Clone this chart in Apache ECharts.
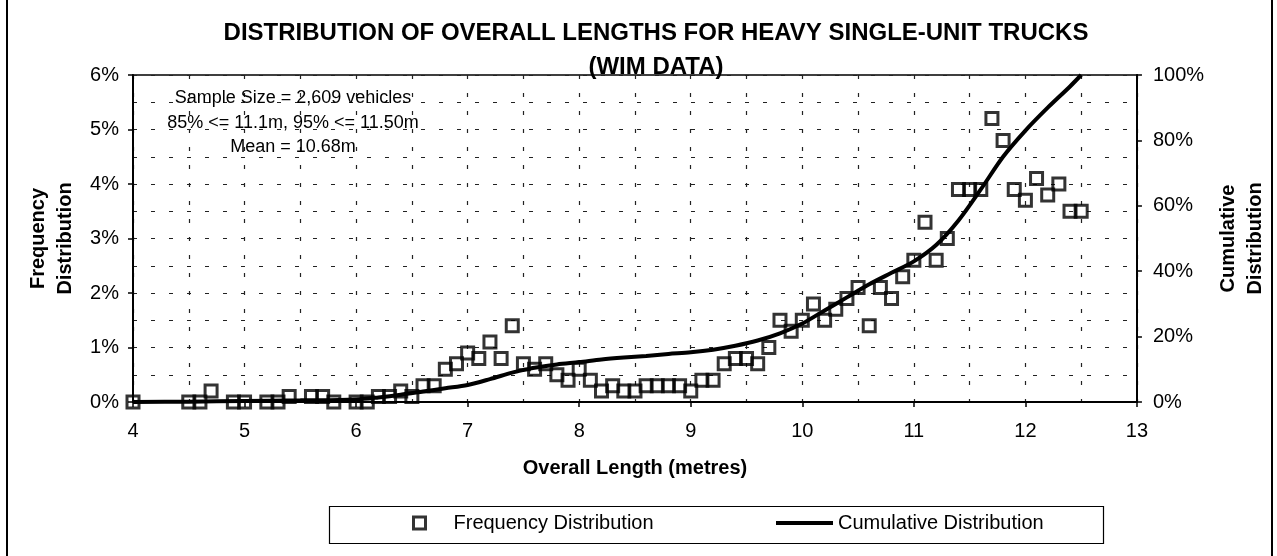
<!DOCTYPE html>
<html>
<head>
<meta charset="utf-8">
<title>Overall lengths - heavy single-unit trucks</title>
<script src="https://cdn.jsdelivr.net/npm/echarts@6/dist/echarts.min.js"></script>
<style>
  html, body { margin: 0; padding: 0; background: #fff; }
  #chart { width: 1277px; height: 556px; }
</style>
</head>
<body>
<div id="chart"></div>
<script>
// frequency distribution, % of vehicles per 0.1 m bin
var freqLength = [4.0, 4.5, 4.6, 4.7, 4.9, 5.0, 5.2, 5.3, 5.4, 5.6, 5.7, 5.8, 6.0, 6.1,
  6.2, 6.3, 6.4, 6.5, 6.6, 6.7, 6.8, 6.9, 7.0, 7.1, 7.2, 7.3, 7.4, 7.5, 7.6, 7.7, 7.8, 7.9,
  8.0, 8.1, 8.2, 8.3, 8.4, 8.5, 8.6, 8.7, 8.8, 8.9, 9.0, 9.1, 9.2, 9.3, 9.4, 9.5, 9.6, 9.7,
  9.8, 9.9, 10.0, 10.1, 10.2, 10.3, 10.4, 10.5, 10.6, 10.7, 10.8, 10.9, 11.0, 11.1, 11.2,
  11.3, 11.4, 11.5, 11.6, 11.7, 11.8, 11.9, 12.0, 12.1, 12.2, 12.3, 12.4, 12.5];
var freqPercent = [0, 0, 0, 0.2, 0, 0, 0, 0, 0.1, 0.1, 0.1, 0, 0, 0,
  0.1, 0.1, 0.2, 0.1, 0.3, 0.3, 0.6, 0.7, 0.9, 0.8, 1.1, 0.8, 1.4, 0.7, 0.6, 0.7, 0.5, 0.4,
  0.6, 0.4, 0.2, 0.3, 0.2, 0.2, 0.3, 0.3, 0.3, 0.3, 0.2, 0.4, 0.4, 0.7, 0.8, 0.8, 0.7, 1.0,
  1.5, 1.3, 1.5, 1.8, 1.5, 1.7, 1.9, 2.1, 1.4, 2.1, 1.9, 2.3, 2.6, 3.3, 2.6,
  3.0, 3.9, 3.9, 3.9, 5.2, 4.8, 3.9, 3.7, 4.1, 3.8, 4.0, 3.5, 3.5];

// cumulative distribution, %
var cumLength = [4.0, 4.5, 5.0, 5.5, 6.0, 6.2, 6.4, 6.6, 6.8, 7.0, 7.2, 7.4, 7.5, 7.6, 7.8,
  8.0, 8.2, 8.4, 8.6, 8.8, 9.0, 9.2, 9.4, 9.6, 9.8, 10.0, 10.2, 10.4, 10.6, 10.8, 11.0,
  11.2, 11.4, 11.6, 11.8, 12.0, 12.2, 12.4, 12.5];
var cumPercent = [0, 0.1, 0.3, 0.5, 0.8, 1.4, 2.2, 3.2, 4.2, 5.2, 7.0, 9.0, 9.8, 10.5, 11.5,
  12.2, 13.0, 13.6, 14.1, 14.7, 15.2, 16.0, 17.2, 18.8, 21.0, 24.0, 28.0, 32.0, 36.0, 39.5, 43.0,
  48.0, 55.5, 65.0, 75.0, 83.0, 90.0, 96.5, 100];

var noteLines = ['Sample Size = 2,609 vehicles', '85% <= 11.1m, 95% <= 11.50m', 'Mean = 10.68m'];

var font = 'Liberation Sans, Arial, sans-serif';

var freqData = freqLength.map(function (x, i) { return [x, freqPercent[i]]; });
var cumData = cumLength.map(function (x, i) { return [x, cumPercent[i]]; });

var chart = echarts.init(document.getElementById('chart'));

var gridDash = { color: '#222', width: 1.2, type: [4, 14] };

var option = {
  backgroundColor: '#fff',
  animation: false,
  textStyle: { fontFamily: font, color: '#000' },
  title: [
    {
      text: 'DISTRIBUTION OF OVERALL LENGTHS FOR HEAVY SINGLE-UNIT TRUCKS\n(WIM DATA)',
      left: 651,
      top: 11,
      textAlign: 'center',
      textStyle: { fontFamily: font, fontSize: 24, fontWeight: 'bold', lineHeight: 34, color: '#000' }
    },
    {
      text: noteLines.join('\n'),
      left: 288,
      top: 81,
      textAlign: 'center',
      textStyle: { fontFamily: font, fontSize: 18, fontWeight: 'normal', lineHeight: 24.5, color: '#000' }
    }
  ],
  grid: {
    left: 133, right: 135, top: 75, bottom: 154,
    show: true, borderColor: '#000', borderWidth: 1.5
  },
  legend: [
    {
      data: ['Frequency Distribution'],
      left: 412, top: 513, padding: 0,
      itemWidth: 12, itemHeight: 12,
      itemStyle: { color: 'rgba(255,255,255,0)', borderColor: '#000', borderWidth: 3 },
      textStyle: { fontFamily: font, fontSize: 20, color: '#000', padding: [0, 0, 0, 23] }
    },
    {
      data: [{ name: 'Cumulative Distribution', icon: 'rect' }],
      left: 776, top: 513, padding: 0,
      itemWidth: 57, itemHeight: 4,
      textStyle: { fontFamily: font, fontSize: 20, color: '#000', padding: [0, 0, 0, 0] }
    }
  ],
  xAxis: {
    type: 'value',
    min: 4, max: 13, interval: 1,
    name: 'Overall Length (metres)',
    nameLocation: 'middle',
    nameGap: 56,
    nameTextStyle: { fontFamily: font, fontSize: 20, fontWeight: 'bold', color: '#000' },
    axisLine: { lineStyle: { color: '#000', width: 2 } },
    axisTick: { show: true, length: 5, lineStyle: { color: '#000', width: 1.5 } },
    axisLabel: { fontFamily: font, fontSize: 20, color: '#000', margin: 19 },
    splitLine: { show: true, lineStyle: gridDash },
    minorTick: { show: false, splitNumber: 2 },
    minorSplitLine: { show: true, lineStyle: gridDash }
  },
  yAxis: [
    {
      type: 'value',
      min: 0, max: 6, interval: 1,
      name: 'Frequency\nDistribution',
      nameLocation: 'middle',
      nameRotate: 90,
      nameGap: 44,
      nameTextStyle: { fontFamily: font, fontSize: 20, fontWeight: 'bold', lineHeight: 27, color: '#000' },
      axisLine: { show: true, lineStyle: { color: '#000', width: 2 } },
      axisTick: { show: true, length: 5, lineStyle: { color: '#000', width: 1.5 } },
      axisLabel: { fontFamily: font, fontSize: 20, color: '#000', margin: 14, formatter: '{value}%' },
      splitLine: { show: true, lineStyle: gridDash },
      minorTick: { show: false, splitNumber: 2 },
      minorSplitLine: { show: true, lineStyle: gridDash }
    },
    {
      type: 'value',
      min: 0, max: 100, interval: 20,
      position: 'right',
      name: 'Cumulative\nDistribution',
      nameLocation: 'middle',
      nameRotate: 90,
      nameGap: 76,
      nameTextStyle: { fontFamily: font, fontSize: 20, fontWeight: 'bold', lineHeight: 27, color: '#000' },
      axisLine: { show: true, lineStyle: { color: '#000', width: 2 } },
      axisTick: { show: true, length: 5, lineStyle: { color: '#000', width: 1.5 } },
      axisLabel: { fontFamily: font, fontSize: 20, color: '#000', margin: 16, formatter: '{value}%' },
      splitLine: { show: false }
    }
  ],
  graphic: [
    // legend frame
    { type: 'rect', left: 327, top: 504, shape: { width: 774, height: 37 },
      style: { fill: 'none', stroke: '#000', lineWidth: 1.2 }, z: 0 },
    // outer chart frame (sides)
    { type: 'line', shape: { x1: 7, y1: 0, x2: 7, y2: 556 }, style: { stroke: '#000', lineWidth: 2 } },
    { type: 'line', shape: { x1: 1272, y1: 0, x2: 1272, y2: 556 }, style: { stroke: '#000', lineWidth: 2 } }
  ],
  series: [
    {
      name: 'Frequency Distribution',
      type: 'scatter',
      yAxisIndex: 0,
      symbol: 'rect',
      symbolSize: 12,
      itemStyle: { color: 'rgba(255,255,255,0)', borderColor: '#000', borderWidth: 3 },
      data: freqData,
      z: 3
    },
    {
      name: 'Cumulative Distribution',
      type: 'line',
      yAxisIndex: 1,
      showSymbol: false,
      symbol: 'none',
      smooth: 0.3,
      lineStyle: { color: '#000', width: 4 },
      itemStyle: { color: '#000' },
      data: cumData,
      z: 4
    }
  ]
};

chart.setOption(option);
</script>
</body>
</html>
